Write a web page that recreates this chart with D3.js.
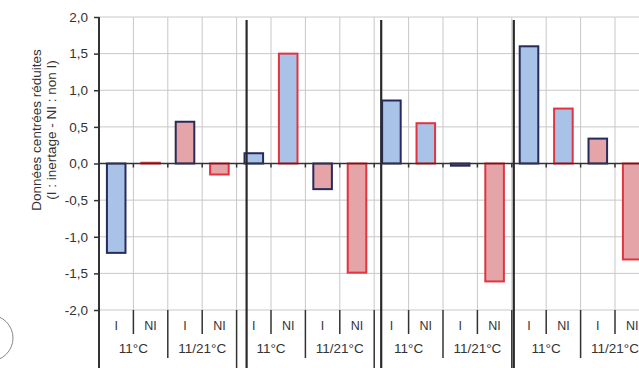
<!DOCTYPE html>
<html>
<head>
<meta charset="utf-8">
<script src="https://cdn.jsdelivr.net/npm/d3@7"></script>
<style>
  body { margin: 0; background: #fff; }
  svg { display: block; font-family: "Liberation Sans", Arial, sans-serif; }
</style>
</head>
<body>
<svg id="chart" width="639" height="368"></svg>
<script>
// data
const treatments = ["I", "NI"];
const temps = ["11°C", "11/21°C"];
const groupCount = 4;
const values = [
  -1.22, 0.01, 0.57, -0.15,
   0.14, 1.50, -0.35, -1.49,
   0.86, 0.55, -0.03, -1.61,
   1.60, 0.75, 0.34, -1.31
];
const yTicks = [-2, -1.5, -1, -0.5, 0, 0.5, 1, 1.5, 2];

const svg = d3.select('#chart');

const plotLeft = 99, plotRight = 649.4, plotTop = 17, plotBottom = 310;

const slots = d3.range(values.length);
const x = d3.scaleBand()
    .domain(slots)
    .range([plotLeft, plotRight]);

const y = d3.scaleLinear()
    .domain([-2, 2])
    .range([plotBottom, plotTop]);

const fmt = v => d3.format('.1f')(v).replace('.', ',').replace('−', '-');

// fill by temperature, stroke by treatment
const fillColor = ['#a9c2e8', '#e4a4a8'];
const strokeColor = ['#262b5c', '#e0353f'];

// horizontal grid
svg.append('g').selectAll('line')
    .data(yTicks)
    .enter().append('line')
    .attr('x1', plotLeft).attr('x2', plotRight)
    .attr('y1', d => y(d)).attr('y2', d => y(d))
    .style('stroke', '#c8c8c8').style('stroke-width', 1);

// vertical grid
let bounds = slots.map(i => x(i)).concat([plotRight]);
svg.append('g').selectAll('line')
    .data(bounds.slice(1))
    .enter().append('line')
    .attr('x1', d => d).attr('x2', d => d)
    .attr('y1', plotTop).attr('y2', plotBottom)
    .style('stroke', '#c8c8c8').style('stroke-width', 1);

// bars
let bw = x.bandwidth() * 0.54;
svg.append('g').selectAll('rect')
    .data(values)
    .enter().append('rect')
    .attr('x', (d, i) => x(i) + (x.bandwidth() - bw) / 2)
    .attr('y', d => y(Math.max(0, d)))
    .attr('width', bw)
    .attr('height', d => Math.abs(y(d) - y(0)))
    .style('fill', (d, i) => fillColor[Math.floor(i / 2) % 2])
    .style('stroke', (d, i) => strokeColor[i % 2])
    .style('stroke-width', 2);

// zero line with ticks
svg.append('line')
    .attr('x1', plotLeft).attr('x2', plotRight)
    .attr('y1', y(0)).attr('y2', y(0))
    .style('stroke', '#333').style('stroke-width', 1.5);
svg.append('g').selectAll('line')
    .data(bounds.slice(1))
    .enter().append('line')
    .attr('x1', d => d).attr('x2', d => d)
    .attr('y1', y(0)).attr('y2', y(0) + 4)
    .style('stroke', '#333').style('stroke-width', 1.5);

// y axis
let yAxis = svg.append('g')
    .attr('transform', 'translate(' + plotLeft + ',0)')
    .call(d3.axisLeft(y).tickValues(yTicks).tickSize(5).tickFormat(fmt));
yAxis.select('.domain').remove();
yAxis.selectAll('line').style('stroke', '#333').style('stroke-width', 1.5);
yAxis.selectAll('text')
    .attr('x', -11)
    .style('font-size', '13.5px')
    .style('fill', '#333');

svg.append('line')
    .attr('x1', plotLeft).attr('x2', plotLeft)
    .attr('y1', plotTop).attr('y2', 368)
    .style('stroke', '#333').style('stroke-width', 2);

// y label
let yl = svg.append('text')
    .attr('transform', 'translate(41,130) rotate(-90)')
    .attr('text-anchor', 'middle')
    .style('font-size', '13.5px')
    .style('fill', '#333');
yl.append('tspan').attr('x', 0).attr('dy', 0).text('Données centrées réduites');
yl.append('tspan').attr('x', 0).attr('dy', 15).text('(I : inertage - NI : non I)');

// category label separators
svg.append('g').selectAll('line')
    .data(d3.range(1, values.length))
    .enter().append('line')
    .attr('x1', i => x(i)).attr('x2', i => x(i))
    .attr('y1', plotBottom)
    .attr('y2', i => i % 4 === 0 ? 368 : (i % 2 === 0 ? 358 : 334))
    .style('stroke', '#333').style('stroke-width', 1.5);

// I / NI labels
svg.append('g').selectAll('text')
    .data(slots)
    .enter().append('text')
    .attr('x', i => x(i) + x.bandwidth() / 2)
    .attr('y', 327)
    .attr('text-anchor', 'middle')
    .attr('dominant-baseline', 'middle')
    .style('font-size', '12.5px')
    .style('fill', '#333')
    .text(i => treatments[i % 2]);

// temperature labels
let pairs = d3.range(groupCount * temps.length);
svg.append('g').selectAll('text')
    .data(pairs)
    .enter().append('text')
    .attr('x', p => x(p * 2) + x.bandwidth())
    .attr('y', 349)
    .attr('text-anchor', 'middle')
    .attr('dominant-baseline', 'middle')
    .style('font-size', '13.5px')
    .style('fill', '#333')
    .text(p => temps[p % 2]);

// panel edges of the composed figure
const panelShift = [10, 7, 2];
svg.append('g').selectAll('line')
    .data(panelShift)
    .enter().append('line')
    .attr('x1', (d, k) => x((k + 1) * 4) + d)
    .attr('x2', (d, k) => x((k + 1) * 4) + d)
    .attr('y1', 20).attr('y2', 368)
    .style('stroke', '#2a2a2a').style('stroke-width', 2.2);

// page mark at lower left
svg.append('circle')
    .attr('cx', -10).attr('cy', 338).attr('r', 23)
    .style('fill', 'none').style('stroke', '#888').style('stroke-width', 1);
</script>
</body>
</html>
